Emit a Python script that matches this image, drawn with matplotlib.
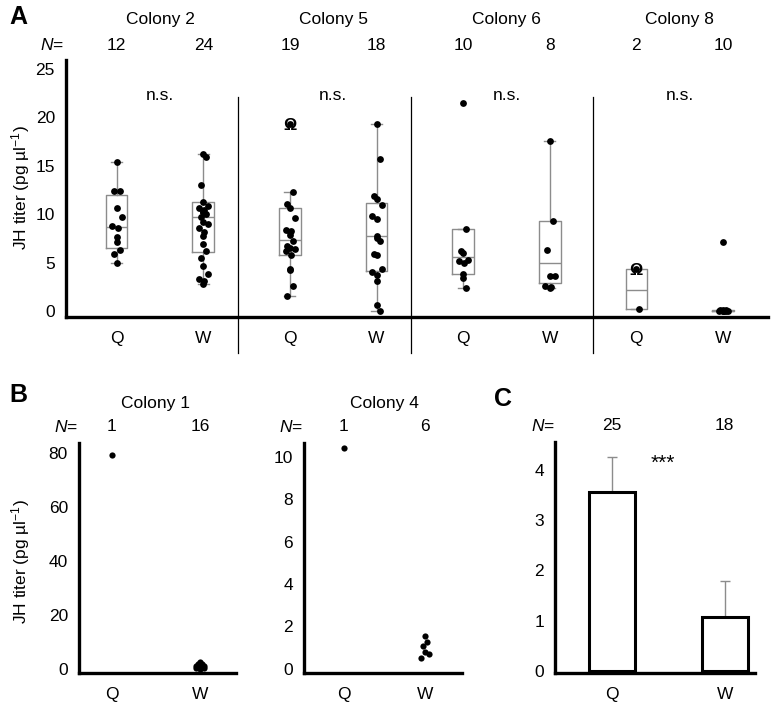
import matplotlib
matplotlib.use("Agg")
import matplotlib.pyplot as plt
import numpy as np

plt.rcParams['font.family'] = ['Liberation Sans', 'DejaVu Sans']
plt.rcParams['mathtext.fontset'] = 'custom'
plt.rcParams['mathtext.rm'] = 'Liberation Sans'
plt.rcParams['mathtext.it'] = 'Liberation Sans:italic'

# ---- panel A data ----
colonies_a = ["Colony 2", "Colony 5", "Colony 6", "Colony 8"]
castes = ["Q", "W"]
n_a = [12, 24, 19, 18, 10, 8, 2, 10]

c2_q = [15.4, 12.4, 12.4, 10.6, 9.7, 8.8, 8.6, 7.6, 7.1, 6.3, 5.9, 5.0]
c2_w = [16.2, 15.9, 13.0, 11.3, 10.8, 10.6, 10.4, 10.2, 10.2, 10.0, 9.7, 9.2,
        9.0, 8.6, 8.2, 7.7, 6.9, 6.2, 5.5, 4.6, 3.8, 3.3, 3.1, 2.8]
c5_q = [19.3, 12.3, 11.1, 10.6, 9.6, 8.4, 8.3, 8.2, 7.9, 7.2, 6.7, 6.5, 6.4,
        6.2, 5.8, 4.3, 4.2, 2.6, 1.6]
c5_w = [19.3, 15.7, 11.9, 11.6, 11.0, 9.8, 9.5, 7.7, 7.5, 7.2, 5.9, 5.8,
        4.3, 4.0, 3.7, 3.1, 0.6, 0.0]
c6_q = [21.5, 8.5, 6.2, 6.0, 5.3, 5.2, 5.0, 3.8, 3.4, 2.4]
c6_w = [17.6, 9.3, 6.3, 3.6, 3.6, 2.6, 2.5, 2.4]
c8_q = [4.3, 0.2]
c8_w = [7.1, 0.15, 0.1, 0.1, 0.05, 0.05, 0.05, 0.0, 0.0, 0.0]
groups_a = [c2_q, c2_w, c5_q, c5_w, c6_q, c6_w, c8_q, c8_w]

# box statistics
box_med = [8.7, 9.7, 7.3, 7.7, 5.6, 5.0, 2.2, 0.05]
box_q1 = [6.5, 6.1, 5.8, 4.1, 3.8, 2.9, 0.2, 0.0]
box_q3 = [12.0, 11.3, 10.6, 11.2, 8.5, 9.3, 4.3, 0.1]
box_lo = [5.0, 2.8, 1.6, 0.0, 2.4, 2.4, 0.2, 0.0]
box_hi = [15.4, 16.2, 12.3, 19.3, 8.5, 17.6, 4.3, 0.15]
omega_marks = [(2, 19.3), (6, 4.3)]   # (group index, value)

# ---- panel B data ----
c1_q = [79.5]
c1_w = [2.8, 2.0, 1.8, 1.5, 1.4, 1.2, 1.1, 1.0, 0.9, 0.8, 0.7, 0.6, 0.5, 0.4, 0.3, 0.2]
c4_q = [10.4]
c4_w = [1.54, 1.26, 1.07, 0.79, 0.68, 0.51]

# ---- panel C data ----
c_mean = [3.55, 1.07]
c_err = [0.71, 0.72]
c_n = [25, 18]

W, H = 776, 706
FS = 12.5
ylabel = r"JH titer (pg µl$^{-1}$)"
grey = "#8c8c8c"


def jitter(n):
    pat = np.array([0.0, 0.035, -0.03, 0.0, 0.06, -0.05, 0.01, 0.0])
    return np.resize(pat, n)


def add_ax(fig, left, top, right, bottom):
    return fig.add_axes([left / W, 1 - bottom / H, (right - left) / W, (bottom - top) / H])


def style(ax):
    for s in ["top", "right"]:
        ax.spines[s].set_visible(False)
    for s in ["left", "bottom"]:
        ax.spines[s].set_linewidth(2.4)
    ax.tick_params(length=0, labelsize=FS)
    ax.tick_params(axis="y", pad=8)
    ax.tick_params(axis="x", pad=10)


fig = plt.figure(figsize=(W / 100, H / 100), dpi=100)

# ================= A =================
ax = add_ax(fig, 66, 60, 768, 317)
style(ax)
xs = np.arange(8)
stats = [dict(med=m, q1=a, q3=b, whislo=lo, whishi=hi, fliers=[])
         for m, a, b, lo, hi in zip(box_med, box_q1, box_q3, box_lo, box_hi)]
ax.bxp(stats, positions=xs, widths=0.25, showfliers=False,
       boxprops=dict(color=grey, lw=1), whiskerprops=dict(color=grey, lw=1),
       capprops=dict(color=grey, lw=1), medianprops=dict(color=grey, lw=1),
       manage_ticks=False)
for i, vals in enumerate(groups_a):
    ax.scatter(xs[i] + jitter(len(vals)), vals, s=24, color="black", zorder=3, lw=0)
for i, v in omega_marks:
    ax.text(xs[i], v - 0.15, "Ω", ha="center", va="center", fontsize=12,
            fontweight="bold", zorder=4)
ax.set_xlim(-0.585, 7.52)
ax.set_ylim(-0.62, 25.93)
ax.set_yticks([0, 5, 10, 15, 20, 25])
ax.set_xticks(xs)
ax.set_xticklabels(castes * 4)
for sx in [1.4, 3.4, 5.5]:
    ax.axvline(sx, ymin=-0.14, ymax=0.856, color="black", lw=0.9, clip_on=False)
for k, name in enumerate(colonies_a):
    ax.text(2 * k + 0.5, 1.156, name, transform=ax.get_xaxis_transform(),
            ha="center", va="center", fontsize=FS)
    ax.text(2 * k + 0.5, 22.3, "n.s.", ha="center", va="center", fontsize=FS)
for i, n in enumerate(n_a):
    ax.text(xs[i], 1.058, str(n), transform=ax.get_xaxis_transform(),
            ha="center", va="center", fontsize=FS)
ax.text(-0.75, 1.058, "$N$=", transform=ax.get_xaxis_transform(),
        ha="center", va="center", fontsize=FS)

# ================= B =================
def panel_b(left, right, xlim, ylim, yticks, q, w, name, nq, nw):
    axb = add_ax(fig, left, 443, right, 673)
    style(axb)
    axb.scatter(np.zeros(len(q)), q, s=20, color="black", lw=0, zorder=3)
    axb.scatter(1 + jitter(len(w)) * 0.8, w, s=20, color="black", lw=0, zorder=3)
    axb.set_xlim(*xlim)
    axb.set_ylim(*ylim)
    axb.set_yticks(yticks)
    axb.set_xticks([0, 1])
    axb.set_xticklabels(castes)
    tr = axb.get_xaxis_transform()
    axb.text(0.5, 1.17, name, transform=tr, ha="center", va="center", fontsize=FS)
    axb.text(0, 1.07, str(nq), transform=tr, ha="center", va="center", fontsize=FS)
    axb.text(1, 1.07, str(nw), transform=tr, ha="center", va="center", fontsize=FS)
    axb.text(xlim[0] - 0.01, 1.07, "$N$=", transform=tr, ha="right", va="center", fontsize=FS)
    return axb


ax1 = panel_b(79, 236, (-0.375, 1.41), (-1.37, 83.8), [0, 20, 40, 60, 80],
              c1_q, c1_w, "Colony 1", len(c1_q), len(c1_w))
ax4 = panel_b(304, 462, (-0.49, 1.46), (-0.2, 10.65), [0, 2, 4, 6, 8, 10],
              c4_q, c4_w, "Colony 4", len(c4_q), len(c4_w))

# ================= C =================
axc = add_ax(fig, 555, 442, 755, 673)
style(axc)
axc.bar([0, 1], c_mean, width=0.41, color="white", edgecolor="black", lw=2.2, zorder=2)
axc.errorbar([0, 1], c_mean, yerr=[[0, 0], c_err], fmt="none", ecolor=grey,
             elinewidth=1, capsize=3.5, capthick=1, zorder=1)
axc.set_xlim(-0.507, 1.27)
axc.set_ylim(-0.04, 4.55)
axc.set_yticks([0, 1, 2, 3, 4])
axc.set_xticks([0, 1])
axc.set_xticklabels(castes)
trc = axc.get_xaxis_transform()
for i, n in enumerate(c_n):
    axc.text(i, 1.07, str(n), transform=trc, ha="center", va="center", fontsize=FS)
axc.text(-0.51, 1.07, "$N$=", transform=trc, ha="right", va="center", fontsize=FS)
axc.text(0.45, 4.12, "***", ha="center", va="center", fontsize=15)

# labels
fig.text(21 / W, 1 - 188 / H, ylabel, rotation=90, ha="center", va="center", fontsize=FS)
fig.text(21 / W, 1 - 562 / H, ylabel, rotation=90, ha="center", va="center", fontsize=FS)
fig.text(18 / W, 1 - 17 / H, "A", fontsize=18, fontweight="bold", ha="center", va="center")
fig.text(18 / W, 1 - 395 / H, "B", fontsize=18, fontweight="bold", ha="center", va="center")
fig.text(503 / W, 1 - 399 / H, "C", fontsize=18, fontweight="bold", ha="center", va="center")

fig.savefig("out.png", dpi=100)
